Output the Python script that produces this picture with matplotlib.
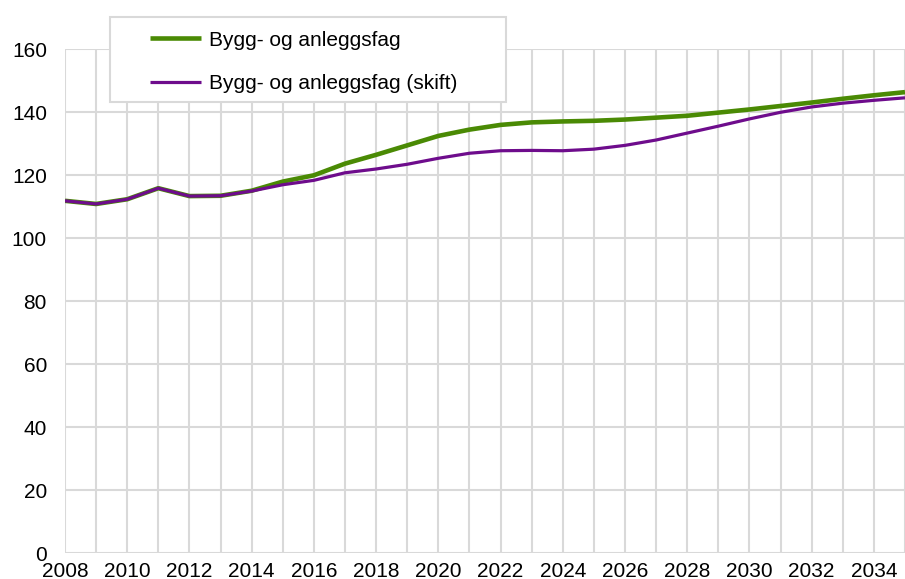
import matplotlib
matplotlib.use("Agg")
import matplotlib.pyplot as plt
from matplotlib.patches import Rectangle

plt.rcParams["font.family"] = ["Liberation Sans", "DejaVu Sans"]

years = list(range(2008, 2036))
bygg = [111.9, 110.9, 112.4, 115.9, 113.4, 113.5, 115.1, 118.0, 120.0, 123.7,
        126.5, 129.5, 132.5, 134.5, 136.0, 136.8, 137.1, 137.3, 137.7, 138.3,
        138.9, 139.9, 140.9, 142.0, 143.1, 144.3, 145.4, 146.4]
bygg_skift = [111.9, 110.9, 112.4, 115.9, 113.4, 113.5, 115.0, 117.0, 118.4, 120.8,
              122.0, 123.5, 125.4, 127.0, 127.8, 127.9, 127.8, 128.3, 129.5, 131.2,
              133.4, 135.6, 137.9, 140.0, 141.7, 142.9, 143.8, 144.6]
labels = ["Bygg- og anleggsfag", "Bygg- og anleggsfag (skift)"]

W, H = 905, 579
fig = plt.figure(figsize=(W / 100, H / 100), dpi=100)
ax = fig.add_axes([65 / W, 1 - 553.3 / H, (W - 65) / W, (553.3 - 49.3) / H])

grid = "#d9d9d9"
l1, = ax.plot(years, bygg, color="#4a8a04", lw=3.3, solid_capstyle="butt", zorder=3)
l2, = ax.plot(years, bygg_skift, color="#6e0c8c", lw=2.3, solid_capstyle="butt", zorder=4)

ax.set_xlim(2008, 2034.7)
ax.set_ylim(0, 160)
ax.set_xticks(range(2008, 2036, 2))
ax.set_xticks(range(2008, 2036), minor=True)
ax.set_yticks(range(0, 161, 20))
ax.grid(True, which="both", axis="x", color=grid, lw=1.5)
ax.grid(True, which="major", axis="y", color=grid, lw=1.5)
ax.set_axisbelow(True)
for s in ax.spines.values():
    s.set_visible(False)
ax.tick_params(which="both", length=0, labelsize=15, colors="black")
ax.tick_params(axis="y", pad=13)
ax.tick_params(axis="x", pad=6)

# legend box overlapping the top of the plot
fig.patches.append(Rectangle((110 / W, 1 - 102 / H), (506 - 110) / W, (102 - 17) / H,
                             transform=fig.transFigure, facecolor="white",
                             edgecolor=grid, lw=1.5, zorder=5))
leg = fig.legend([l1, l2], labels, loc="upper left", bbox_to_anchor=(131 / W, 1 - 12 / H),
                 frameon=False, fontsize=15, handlelength=2.45, handletextpad=0.4,
                 labelspacing=1.16)
leg.set_zorder(6)

fig.savefig("out.png", dpi=100)
